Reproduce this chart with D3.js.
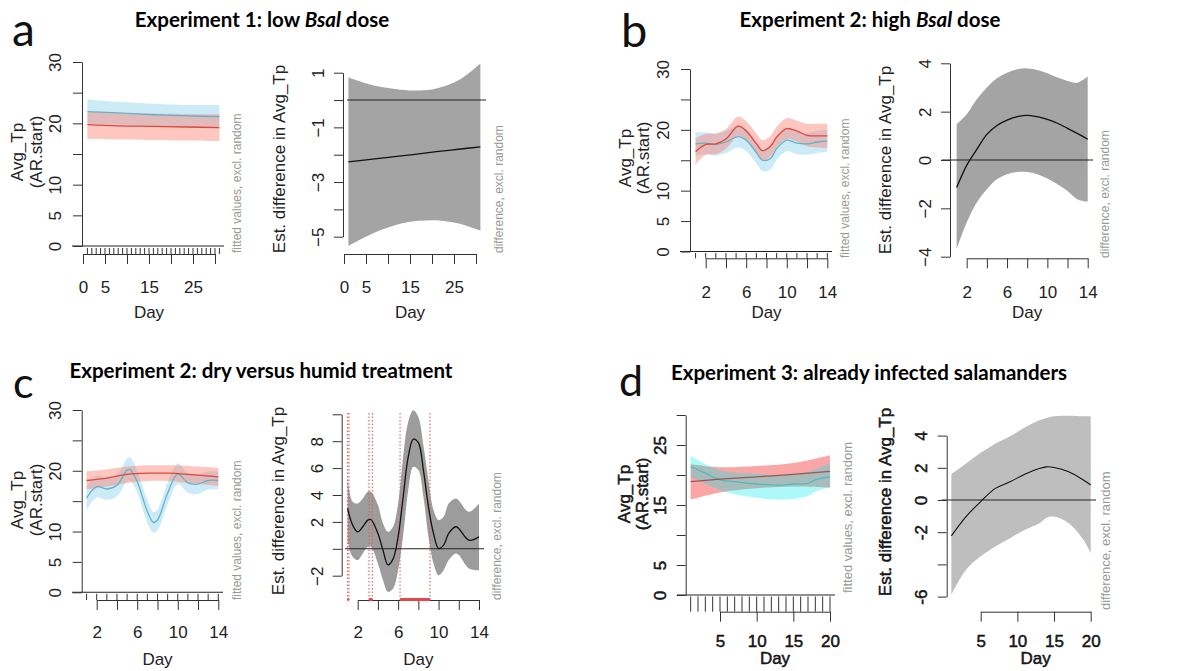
<!DOCTYPE html>
<html>
<head>
<meta charset="utf-8">
<script src="https://cdn.jsdelivr.net/npm/d3@7"></script>
<style>
  body { margin: 0; background: #fff; }
  svg text { font-family: "Liberation Sans", Arial, sans-serif; }
  .title { font-family: Lato, "Open Sans", sans-serif; font-weight: bold; font-size: 20.5px; }
  .letter { font-family: Lato, "Open Sans", sans-serif; }
  .side { fill: #999; }
  .heavy text, text.heavy { stroke: #000; stroke-width: 0.45px; }
  .heavy text.side { stroke: none; }
</style>
</head>
<body>
<svg id="fig" width="1189" height="671"></svg>
<script>
// ---- a: Experiment 1, low Bsal dose
var aDays = [1, 8, 16, 24, 31];
var aRedFit = [19.8, 19.6, 19.5, 19.4, 19.3];
var aRedLo = [17.5, 17.4, 17.3, 17.2, 17.1];
var aRedHi = [21.9, 21.7, 21.6, 21.5, 21.5];
var aBlueFit = [21.9, 21.7, 21.4, 21.2, 21.1];
var aBlueLo = [19.9, 19.8, 19.6, 19.3, 19.2];
var aBlueHi = [23.9, 23.5, 23.2, 23.0, 23.0];
var aRugDays = [1, 2, 3, 4, 5, 6, 7, 8, 9, 10, 11, 12, 13, 14, 15, 16, 17, 18, 19, 20, 21, 22, 23, 24, 25, 26, 27, 28, 29, 30, 31];
var aDiffDays = [1, 7, 13, 17, 21, 26, 31];
var aDiffFit = [-2.26, -2.15, -2.04, -1.97, -1.89, -1.80, -1.71];
var aDiffLo = [-5.34, -4.85, -4.52, -4.42, -4.40, -4.52, -4.78];
var aDiffHi = [0.82, 0.52, 0.38, 0.35, 0.42, 0.72, 1.34];

// ---- b: Experiment 2, high Bsal dose
var bDays = [1, 2, 3, 4, 5.2, 6, 7, 7.6, 8.4, 9, 10, 11, 12, 13, 14];
var bRedFit = [16.4, 17.6, 17.7, 18.5, 20.6, 19.8, 17.7, 16.6, 17.3, 18.8, 20.2, 19.8, 19.1, 19.0, 19.0];
var bRedHi = [18.6, 19.3, 19.4, 20.1, 22.2, 21.4, 19.4, 18.3, 19.0, 20.5, 21.9, 21.5, 21.0, 21.0, 21.0];
var bRedLo = [14.3, 15.9, 16.0, 16.9, 19.0, 18.2, 16.0, 14.9, 15.6, 17.1, 18.5, 18.1, 17.3, 17.1, 17.0];
var bBlueFit = [17.7, 17.8, 17.6, 18.0, 18.9, 18.3, 16.3, 15.0, 15.3, 16.9, 18.3, 17.8, 17.7, 18.0, 18.2];
var bBlueHi = [19.6, 19.6, 19.4, 19.8, 20.7, 20.1, 18.1, 16.8, 17.1, 18.7, 20.1, 19.6, 19.5, 19.8, 20.0];
var bBlueLo = [15.8, 16.0, 15.8, 16.2, 17.1, 16.5, 14.5, 13.2, 13.5, 15.1, 16.5, 16.0, 15.9, 16.2, 16.4];
var bRugDays = [1, 2, 3, 4, 5, 6, 7, 8, 9, 10, 11, 12, 13, 14];
var bDiffDays = [1, 2, 3, 4, 5, 6, 7, 8, 9, 10, 11, 12, 13, 14];
var bDiffFit = [-1.14, -0.22, 0.44, 1.06, 1.43, 1.65, 1.79, 1.85, 1.79, 1.68, 1.52, 1.31, 1.09, 0.86];
var bDiffHi = [1.48, 1.89, 2.51, 3.0, 3.38, 3.61, 3.75, 3.79, 3.72, 3.59, 3.41, 3.27, 3.2, 3.45];
var bDiffLo = [-3.69, -2.59, -1.76, -1.21, -0.8, -0.59, -0.5, -0.5, -0.59, -0.77, -1.0, -1.28, -1.63, -1.72];

// ---- c: Experiment 2, dry versus humid
var cRedDays = [1, 3, 5, 7, 9, 11, 14];
var cRedFit = [18.4, 18.8, 19.4, 19.6, 19.6, 19.4, 19.0];
var cRedHi = [19.9, 20.2, 20.7, 20.9, 20.9, 20.8, 20.5];
var cRedLo = [16.9, 17.4, 18.0, 18.3, 18.3, 18.0, 17.5];
var cBlueDays = [1, 2, 3, 4, 5, 5.3, 6, 7, 7.6, 8, 9, 10, 11, 12, 13, 14];
var cBlueFit = [15.5, 17.4, 17.0, 17.6, 20.1, 20.2, 18.2, 13.3, 11.5, 11.9, 16.3, 19.5, 18.0, 17.8, 18.4, 18.4];
var cBlueHi = [17.4, 19.2, 18.8, 19.4, 22.0, 22.2, 20.0, 15.2, 13.2, 13.6, 18.1, 21.2, 19.6, 19.4, 19.9, 19.9];
var cBlueLo = [13.5, 15.6, 15.2, 15.8, 18.2, 18.3, 16.4, 11.4, 9.8, 10.2, 14.5, 17.8, 16.4, 16.2, 16.9, 16.9];
var cRugDays = [1, 2, 3, 4, 5, 6, 7, 8, 9, 10, 11, 12, 13, 14];
var cDiffDays = [1, 1.5, 2, 2.5, 3, 3.3, 4, 4.5, 5, 5.5, 6, 6.5, 7, 7.5, 8, 8.5, 9, 9.5, 10, 10.5, 11, 11.7, 12, 13, 14];
var cDiffFit = [3.0, 1.76, 1.26, 1.64, 2.13, 2.18, 1.14, -0.1, -1.2, -0.75, 0.9, 3.87, 6.84, 8.15, 7.9, 5.85, 3.12, 1.14, 0.02, 0.27, 1.14, 1.64, 1.51, 0.64, 0.89];
var cDiffHi = [5.36, 3.5, 3.37, 3.74, 4.24, 4.24, 3.25, 1.88, 1.26, 1.64, 3.37, 6.84, 9.45, 10.3, 9.8, 7.7, 5.1, 2.88, 2.13, 2.38, 3.37, 3.74, 3.6, 2.75, 3.37];
var cDiffLo = [0.64, -0.6, -0.84, -0.35, 0.15, 0.15, -1.09, -2.33, -3.2, -2.95, -1.59, 1.02, 4.36, 6.1, 5.85, 3.87, 0.89, -1.09, -1.96, -1.59, -0.84, -0.35, -0.47, -1.46, -1.59];
var cSigEdges = [1.0, 1.14, 3.12, 3.45, 6.19, 9.15];
var cSigRanges = [[1.0, 1.14], [3.12, 3.45], [6.19, 9.15]];

// ---- d: Experiment 3, already infected salamanders
var dRedDays = [1, 5, 10, 15, 20];
var dRedFit = [18.9, 19.3, 19.7, 20.1, 20.6];
var dRedHi = [21.8, 21.3, 21.5, 22.0, 23.3];
var dRedLo = [15.9, 17.1, 17.8, 18.1, 17.9];
var dBlueDays = [1, 3, 5, 7, 10, 13, 15, 17, 18, 20];
var dBlueFit = [21.4, 20.3, 19.2, 18.9, 18.5, 18.3, 18.5, 18.6, 19.2, 19.7];
var dBlueHi = [23.2, 21.8, 20.8, 20.4, 20.2, 20.0, 20.2, 20.5, 21.0, 21.9];
var dBlueLo = [19.7, 18.6, 17.5, 16.8, 16.2, 15.9, 16.0, 16.5, 17.2, 18.0];
var dRugDays = [1, 2, 3, 4, 5, 6, 7, 8, 9, 10, 11, 12, 13, 14, 15, 16, 17, 18, 19, 20];
var dDiffDays = [1, 3, 5, 7, 9, 11, 13, 14, 15, 17, 19, 20];
var dDiffFit = [-2.23, -1.03, -0.1, 0.72, 1.13, 1.6, 1.96, 2.06, 2.02, 1.75, 1.24, 0.93];
var dDiffHi = [1.6, 2.27, 2.93, 3.5, 3.96, 4.5, 4.95, 5.1, 5.2, 5.24, 5.2, 5.2];
var dDiffLo = [-5.88, -4.33, -3.5, -2.89, -2.37, -1.86, -1.44, -1.1, -1.03, -1.44, -2.47, -3.3];

// tick values and which of them R printed
var yFitTicks = [0, 5, 10, 15, 20, 25, 30];
var yFitLabels = [0, 5, 10, 20, 30];
var dFitLabels = [0, 5, 15, 25];
var xLongTicks = [0, 5, 10, 15, 20, 25, 30];
var xLongLabels = [0, 5, 15, 25];
var x14Ticks = [2, 4, 6, 8, 10, 12, 14];
var x14Labels = [2, 6, 10, 14];
var x20Ticks = [5, 10, 15, 20];
var aDiffTicks = [-5, -4, -3, -2, -1, 0, 1];
var aDiffLabels = [1, -1, -3, -5];
var bDiffTicks = [-4, -2, 0, 2, 4];
var cDiffTicks = [-2, 0, 2, 4, 6, 8, 10];
var cDiffLabels = [-2, 2, 4, 6, 8];
var dDiffTicks = [-6, -4, -2, 0, 2, 4];
var dDiffLabels = [4, 2, 0, -2, -6];

var RED_BAND = 'rgba(250,128,114,0.45)', BLUE_BAND = 'rgba(135,206,235,0.42)';
var RED_LINE = '#df463e', BLUE_LINE = '#63b4c6';
var PINK_BAND = 'rgba(240,0,0,0.35)', CYAN_BAND = 'rgba(0,235,235,0.32)';

var svg = d3.select('#fig');

function pts(days, vals) {
  return days.map(function (d, i) { return [d, vals[i]]; });
}

function panel(o) {
  var g = svg.append('g');
  if (o.heavy) g.attr('class', 'heavy');
  var x = d3.scaleLinear().domain(o.xDom).range(o.xPx);
  var y = d3.scaleLinear().domain(o.yDom).range(o.yPx);
  var curve = d3.curveCatmullRom.alpha(0.5);

  var area = d3.area().curve(curve)
    .x(function (d) { return x(d[0]); })
    .y0(function (d) { return y(d[1]); })
    .y1(function (d) { return y(d[2]); });
  var line = d3.line().curve(curve)
    .x(function (d) { return x(d[0]); })
    .y(function (d) { return y(d[1]); });

  (o.bands || []).forEach(function (b) {
    var rows = b.days.map(function (d, i) { return [d, b.lo[i], b.hi[i]]; });
    g.append('path').attr('d', area(rows)).attr('fill', b.fill);
  });

  // horizontal line at 0
  g.append('line')
    .attr('x1', o.zero[0]).attr('x2', o.zero[1])
    .attr('y1', y(0)).attr('y2', y(0))
    .attr('stroke', '#222').attr('stroke-width', 1.1);

  // significance marks (panel c)
  (o.sigEdges || []).forEach(function (d) {
    g.append('line').attr('x1', x(d)).attr('x2', x(d))
      .attr('y1', o.sigTop).attr('y2', o.xAxisY)
      .attr('stroke', '#e06060').attr('stroke-width', 1.1)
      .attr('stroke-dasharray', '1.5,2');
  });

  (o.lines || []).forEach(function (l) {
    g.append('path').attr('d', line(pts(l.days, l.vals)))
      .attr('fill', 'none').attr('stroke', l.stroke).attr('stroke-width', l.width || 1.3);
  });

  // rug
  (o.rug || []).forEach(function (d) {
    g.append('line').attr('x1', x(d)).attr('x2', x(d))
      .attr('y1', y(0) + o.rugGap).attr('y2', o.xAxisY)
      .attr('stroke', '#333').attr('stroke-width', 1);
  });

  var minus = o.heavy ? '-' : '\u2212';
  function fmt(list) {
    return function (d) {
      if (list.indexOf(d) < 0) return '';
      return d < 0 ? minus + Math.abs(d) : String(d);
    };
  }

  var yAx = d3.axisLeft(y).tickValues(o.yTicks).tickSize(9).tickSizeOuter(0)
    .tickFormat(fmt(o.yLabels));
  var gy = g.append('g').attr('transform', 'translate(' + o.yAxisX + ',0)').call(yAx);
  gy.attr('font-size', 17).attr('font-family', null).attr('color', '#333');
  gy.selectAll('text').attr('x', 0).attr('y', o.yLabOff).attr('dy', 0)
    .attr('text-anchor', 'middle').attr('transform', 'rotate(-90)').attr('fill', '#222');

  var xAx = d3.axisBottom(x).tickValues(o.xTicks).tickSize(10).tickSizeOuter(0)
    .tickFormat(fmt(o.xLabels));
  var gx = g.append('g').attr('transform', 'translate(0,' + o.xAxisY + ')').call(xAx);
  gx.attr('font-size', 17).attr('font-family', null).attr('color', '#333');
  gx.selectAll('text').attr('y', o.xLabY - o.xAxisY).attr('dy', 0).attr('fill', '#222');

  (o.sigRanges || []).forEach(function (r) {
    g.append('line').attr('x1', x(r[0])).attr('x2', x(r[1]))
      .attr('y1', o.xAxisY - 0.5).attr('y2', o.xAxisY - 0.5)
      .attr('stroke', '#e8474a').attr('stroke-width', 3);
  });

  // axis titles
  g.append('text').attr('x', (o.xPx[0] + o.xPx[1]) / 2).attr('y', o.dayY)
    .attr('text-anchor', 'middle').attr('font-size', 17).attr('fill', '#222').text('Day');

  o.ylab.forEach(function (t) {
    g.append('text')
      .attr('transform', 'translate(' + t.x + ',' + o.ylabY + ') rotate(-90)')
      .attr('text-anchor', 'middle').attr('dominant-baseline', 'central')
      .attr('font-size', 17).attr('fill', '#222').text(t.text);
  });

  g.append('text').attr('class', 'side')
    .attr('transform', 'translate(' + o.side.x + ',' + o.side.y + ') rotate(-90)')
    .attr('dominant-baseline', 'central')
    .attr('font-size', o.side.size || 12)
    .text(o.side.text);
}

// ---- panel a
panel({
  xDom: [0, 30], xPx: [83, 215], yDom: [0, 30], yPx: [246, 62],
  xAxisY: 254, yAxisX: 82, zero: [72, 224], rug: aRugDays, rugGap: 2,
  yTicks: yFitTicks, yLabels: yFitLabels, xTicks: xLongTicks, xLabels: xLongLabels,
  yLabOff: -21, xLabY: 293, dayY: 318,
  ylab: [{ x: 17, text: 'Avg_Tp' }, { x: 36, text: '(AR.start)' }], ylabY: 152,
  side: { x: 237, y: 253, text: 'fitted values, excl. random' },
  bands: [
    { days: aDays, lo: aBlueLo, hi: aBlueHi, fill: BLUE_BAND },
    { days: aDays, lo: aRedLo, hi: aRedHi, fill: RED_BAND }
  ],
  lines: [
    { days: aDays, vals: aBlueFit, stroke: BLUE_LINE },
    { days: aDays, vals: aRedFit, stroke: RED_LINE }
  ]
});
panel({
  xDom: [0, 30], xPx: [344, 476], yDom: [-5, 1], yPx: [236.7, 72.7],
  xAxisY: 254, yAxisX: 343, zero: [347, 486],
  yTicks: aDiffTicks, yLabels: aDiffLabels, xTicks: xLongTicks, xLabels: xLongLabels,
  yLabOff: -19, xLabY: 293, dayY: 318,
  ylab: [{ x: 279, text: 'Est. difference in Avg_Tp' }], ylabY: 159,
  side: { x: 499, y: 253, text: 'difference, excl. random' },
  bands: [{ days: aDiffDays, lo: aDiffLo, hi: aDiffHi, fill: '#a4a4a4' }],
  lines: [{ days: aDiffDays, vals: aDiffFit, stroke: '#111' }]
});

// ---- panel b
panel({
  xDom: [2, 14], xPx: [705.7, 827.3], yDom: [0, 30], yPx: [251.5, 69],
  xAxisY: 258.3, yAxisX: 690, zero: [680, 832], rug: bRugDays, rugGap: 1.5,
  yTicks: yFitTicks, yLabels: yFitLabels, xTicks: x14Ticks, xLabels: x14Labels,
  yLabOff: -21, xLabY: 298, dayY: 318,
  ylab: [{ x: 625, text: 'Avg_Tp' }, { x: 643, text: '(AR.start)' }], ylabY: 158,
  side: { x: 845, y: 258, text: 'fitted values, excl. random' },
  bands: [
    { days: bDays, lo: bBlueLo, hi: bBlueHi, fill: BLUE_BAND },
    { days: bDays, lo: bRedLo, hi: bRedHi, fill: RED_BAND }
  ],
  lines: [
    { days: bDays, vals: bBlueFit, stroke: BLUE_LINE },
    { days: bDays, vals: bRedFit, stroke: RED_LINE }
  ]
});
panel({
  xDom: [2, 14], xPx: [966.7, 1087.7], yDom: [-4, 4], yPx: [256.7, 63.3],
  xAxisY: 258.3, yAxisX: 950, zero: [941.7, 1093],
  yTicks: bDiffTicks, yLabels: bDiffTicks, xTicks: x14Ticks, xLabels: x14Labels,
  yLabOff: -19, xLabY: 298, dayY: 318,
  ylab: [{ x: 885, text: 'Est. difference in Avg_Tp' }], ylabY: 160,
  side: { x: 1105, y: 258, text: 'difference, excl. random' },
  bands: [{ days: bDiffDays, lo: bDiffLo, hi: bDiffHi, fill: '#a4a4a4' }],
  lines: [{ days: bDiffDays, vals: bDiffFit, stroke: '#111' }]
});

// ---- panel c
panel({
  xDom: [2, 14], xPx: [96.7, 218.3], yDom: [0, 30], yPx: [592.3, 410],
  xAxisY: 600, yAxisX: 81.7, zero: [72, 223], rug: cRugDays, rugGap: 1.5,
  yTicks: yFitTicks, yLabels: yFitLabels, xTicks: x14Ticks, xLabels: x14Labels,
  yLabOff: -21, xLabY: 638, dayY: 665,
  ylab: [{ x: 17, text: 'Avg_Tp' }, { x: 36, text: '(AR.start)' }], ylabY: 500,
  side: { x: 237, y: 600, text: 'fitted values, excl. random' },
  bands: [
    { days: cBlueDays, lo: cBlueLo, hi: cBlueHi, fill: BLUE_BAND },
    { days: cRedDays, lo: cRedLo, hi: cRedHi, fill: RED_BAND }
  ],
  lines: [
    { days: cBlueDays, vals: cBlueFit, stroke: BLUE_LINE },
    { days: cRedDays, vals: cRedFit, stroke: RED_LINE }
  ]
});
panel({
  xDom: [2, 14], xPx: [357.7, 479], yDom: [-2, 10], yPx: [575.7, 414.3],
  xAxisY: 600, yAxisX: 341.7, zero: [345, 484],
  yTicks: cDiffTicks, yLabels: cDiffLabels, xTicks: x14Ticks, xLabels: x14Labels,
  yLabOff: -19, xLabY: 638, dayY: 665,
  ylab: [{ x: 278, text: 'Est. difference in Avg_Tp' }], ylabY: 501,
  side: { x: 497, y: 600, text: 'difference, excl. random' },
  sigEdges: cSigEdges, sigRanges: cSigRanges, sigTop: 413,
  bands: [{ days: cDiffDays, lo: cDiffLo, hi: cDiffHi, fill: '#9c9c9c' }],
  lines: [{ days: cDiffDays, vals: cDiffFit, stroke: '#111' }]
});

// ---- panel d
panel({
  heavy: true,
  xDom: [5, 20], xPx: [720, 830], yDom: [0, 30], yPx: [595, 415],
  xAxisY: 611.7, yAxisX: 685.7, zero: [677, 835], rug: dRugDays, rugGap: 1.5,
  yTicks: yFitTicks, yLabels: dFitLabels, xTicks: x20Ticks, xLabels: x20Ticks,
  yLabOff: -20, xLabY: 647, dayY: 664,
  ylab: [{ x: 624, text: 'Avg_Tp' }, { x: 642, text: '(AR.start)' }], ylabY: 494,
  side: { x: 847, y: 593, text: 'fitted values, excl. random', size: 13 },
  bands: [
    { days: dRedDays, lo: dRedLo, hi: dRedHi, fill: PINK_BAND },
    { days: dBlueDays, lo: dBlueLo, hi: dBlueHi, fill: CYAN_BAND }
  ],
  lines: [
    { days: dBlueDays, vals: dBlueFit, stroke: '#4fbcbc' },
    { days: dRedDays, vals: dRedFit, stroke: '#9a5656' }
  ]
});
panel({
  heavy: true,
  xDom: [5, 20], xPx: [980.7, 1090.7], yDom: [-6, 4], yPx: [596.6, 435.6],
  xAxisY: 611.7, yAxisX: 946.7, zero: [941.7, 1096],
  yTicks: dDiffTicks, yLabels: dDiffLabels, xTicks: x20Ticks, xLabels: x20Ticks,
  yLabOff: -20, xLabY: 647, dayY: 664,
  ylab: [{ x: 885, text: 'Est. difference in Avg_Tp' }], ylabY: 502,
  side: { x: 1105, y: 610, text: 'difference, excl. random', size: 13 },
  bands: [{ days: dDiffDays, lo: dDiffLo, hi: dDiffHi, fill: '#bebebe' }],
  lines: [{ days: dDiffDays, vals: dDiffFit, stroke: '#111', width: 1.1 }]
});

// ---- titles and panel letters
var titles = [
  { x: 262, y: 27, parts: ['Experiment 1: low ', 'Bsal', ' dose'] },
  { x: 870, y: 27, parts: ['Experiment 2: high ', 'Bsal', ' dose'] },
  { x: 261, y: 378, parts: ['Experiment 2: dry versus humid treatment'] },
  { x: 869, y: 380, parts: ['Experiment 3: already infected salamanders'] }
];
titles.forEach(function (t) {
  var tx = svg.append('text').attr('class', 'title')
    .attr('x', t.x).attr('y', t.y).attr('text-anchor', 'middle');
  t.parts.forEach(function (p, i) {
    tx.append('tspan').attr('font-style', i === 1 ? 'italic' : null).text(p);
  });
});

var letters = [
  { t: 'a', x: 12, y: 46, size: 46 },
  { t: 'b', x: 621, y: 47, size: 47 },
  { t: 'c', x: 13, y: 398, size: 43 },
  { t: 'd', x: 619, y: 396, size: 43 }
];
letters.forEach(function (l) {
  svg.append('text').attr('class', 'letter').attr('x', l.x).attr('y', l.y)
    .attr('font-size', l.size).attr('fill', '#111').text(l.t);
});
</script>
</body>
</html>
